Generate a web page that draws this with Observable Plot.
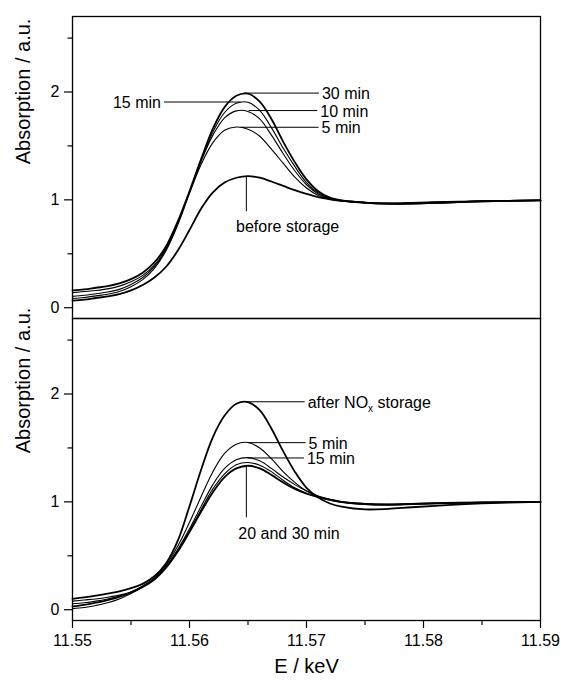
<!DOCTYPE html>
<html><head><meta charset="utf-8">
<script src="https://cdn.jsdelivr.net/npm/d3@7"></script>
<script src="https://cdn.jsdelivr.net/npm/@observablehq/plot@0.6"></script>
<style>body{margin:0;background:#fff} #chart{position:absolute;left:0;top:0}</style>
</head><body><div id="chart"></div>
<script>
// photon energy grid (keV)
const energy = [11.550, 11.551, 11.552, 11.553, 11.554, 11.555, 11.556, 11.557, 11.558, 11.559, 11.560, 11.561, 11.562, 11.563, 11.564, 11.565, 11.566, 11.567, 11.568, 11.569, 11.570, 11.571, 11.572, 11.573, 11.575, 11.577, 11.579, 11.582, 11.585, 11.590];

// upper panel: NOx storage
const top30min  = [0.16, 0.17, 0.185, 0.20, 0.225, 0.265, 0.325, 0.42, 0.57, 0.80, 1.08, 1.38, 1.66, 1.86, 1.965, 1.985, 1.91, 1.75, 1.54, 1.35, 1.19, 1.08, 1.02, 0.995, 0.975, 0.965, 0.965, 0.975, 0.985, 0.995];
const top15min  = [0.14, 0.15, 0.16, 0.175, 0.20, 0.24, 0.30, 0.395, 0.55, 0.785, 1.07, 1.37, 1.63, 1.81, 1.895, 1.905, 1.83, 1.67, 1.48, 1.31, 1.16, 1.065, 1.015, 0.995, 0.975, 0.965, 0.97, 0.98, 0.99, 0.995];
const top10min  = [0.105, 0.115, 0.13, 0.145, 0.17, 0.215, 0.28, 0.38, 0.54, 0.78, 1.07, 1.36, 1.60, 1.76, 1.825, 1.82, 1.75, 1.60, 1.43, 1.27, 1.14, 1.055, 1.01, 0.99, 0.97, 0.965, 0.97, 0.98, 0.99, 0.995];
const top5min   = [0.085, 0.095, 0.11, 0.125, 0.15, 0.195, 0.26, 0.365, 0.53, 0.77, 1.06, 1.33, 1.53, 1.645, 1.675, 1.655, 1.59, 1.47, 1.34, 1.21, 1.11, 1.04, 1.005, 0.99, 0.975, 0.97, 0.975, 0.985, 0.99, 0.995];
const topBefore = [0.065, 0.075, 0.09, 0.105, 0.125, 0.16, 0.21, 0.28, 0.38, 0.53, 0.72, 0.92, 1.07, 1.16, 1.205, 1.22, 1.205, 1.17, 1.13, 1.09, 1.055, 1.025, 1.005, 0.99, 0.975, 0.965, 0.965, 0.975, 0.985, 0.995];

// lower panel: reduction
const botAfterNOx = [0.10, 0.115, 0.13, 0.15, 0.17, 0.20, 0.24, 0.31, 0.43, 0.64, 0.96, 1.30, 1.60, 1.80, 1.91, 1.925, 1.85, 1.68, 1.47, 1.28, 1.13, 1.04, 0.985, 0.955, 0.93, 0.935, 0.95, 0.97, 0.985, 1.0];
const bot5min  = [0.055, 0.065, 0.08, 0.10, 0.125, 0.165, 0.22, 0.295, 0.415, 0.59, 0.81, 1.05, 1.28, 1.45, 1.535, 1.55, 1.50, 1.40, 1.28, 1.18, 1.10, 1.05, 1.015, 0.995, 0.975, 0.97, 0.975, 0.985, 0.99, 1.0];
const bot15min = [0.01, 0.02, 0.04, 0.065, 0.10, 0.15, 0.21, 0.285, 0.40, 0.56, 0.75, 0.96, 1.16, 1.31, 1.39, 1.41, 1.38, 1.31, 1.23, 1.16, 1.10, 1.055, 1.025, 1.0, 0.98, 0.975, 0.98, 0.99, 0.995, 1.0];
const bot20min = [0.08, 0.09, 0.10, 0.115, 0.135, 0.165, 0.215, 0.285, 0.395, 0.55, 0.73, 0.93, 1.12, 1.26, 1.345, 1.365, 1.34, 1.28, 1.20, 1.13, 1.08, 1.05, 1.02, 1.0, 0.985, 0.98, 0.985, 0.99, 0.995, 1.0];
const bot30min = [0.03, 0.045, 0.065, 0.09, 0.12, 0.16, 0.21, 0.28, 0.39, 0.54, 0.72, 0.91, 1.09, 1.23, 1.31, 1.335, 1.31, 1.25, 1.18, 1.12, 1.075, 1.045, 1.02, 1.0, 0.98, 0.975, 0.98, 0.99, 0.995, 1.0];

const xTicks = [11.55, 11.56, 11.57, 11.58, 11.59];
const xMinorTicks = [11.555, 11.565, 11.575, 11.585];
const yTicks = [0, 1, 2];
const yMinorTicks = [0.5, 1.5, 2.5];
const labelsTop = ["30 min", "15 min", "10 min", "5 min", "before storage"];
const labelsBottom = ["after NOx storage", "5 min", "15 min", "20 and 30 min"];
const yTitle = "Absorption / a.u.";
const xTitle = "E / keV";

const FONT = "'Liberation Sans', Arial, Helvetica, sans-serif";

const series = [
  {panel: "top", name: "30 min", values: top30min, thick: true},
  {panel: "top", name: "15 min", values: top15min, thick: false},
  {panel: "top", name: "10 min", values: top10min, thick: false},
  {panel: "top", name: "5 min", values: top5min, thick: false},
  {panel: "top", name: "before storage", values: topBefore, thick: true},
  {panel: "bottom", name: "after NOx storage", values: botAfterNOx, thick: true},
  {panel: "bottom", name: "5 min", values: bot5min, thick: false},
  {panel: "bottom", name: "15 min", values: bot15min, thick: false},
  {panel: "bottom", name: "20 min", values: bot20min, thick: false},
  {panel: "bottom", name: "30 min", values: bot30min, thick: true}
];
const rows = series.flatMap(s => energy.map((e, i) => ({panel: s.panel, key: s.panel + "|" + s.name, E: e, A: s.values[i], thick: s.thick})));

// annotation geometry (leader lines in data coordinates)
const topLinks = [
  {x1: 11.56465, y1: 1.99, x2: 11.57106, y2: 1.99},
  {x1: 11.55782, y1: 1.907, x2: 11.56437, y2: 1.907},
  {x1: 11.56506, y1: 1.828, x2: 11.57092, y2: 1.828},
  {x1: 11.56437, y1: 1.673, x2: 11.57103, y2: 1.673},
  {x1: 11.56486, y1: 1.215, x2: 11.56486, y2: 0.895}
];
const topText = [
  {x: 11.57106, y: 1.99, anchor: "start", t: labelsTop[0]},
  {x: 11.55782, y: 1.907, anchor: "end", t: labelsTop[1]},
  {x: 11.57092, y: 1.828, anchor: "start", t: labelsTop[2]},
  {x: 11.57103, y: 1.673, anchor: "start", t: labelsTop[3]}
];
const botLinks = [
  {x1: 11.5648, y1: 1.928, x2: 11.56984, y2: 1.928},
  {x1: 11.56494, y1: 1.549, x2: 11.56992, y2: 1.549},
  {x1: 11.56494, y1: 1.407, x2: 11.56978, y2: 1.407},
  {x1: 11.56486, y1: 1.336, x2: 11.56486, y2: 0.857}
];
const botText = [
  {x: 11.56984, y: 1.928, dx: 3, t: labelsBottom[0]},
  {x: 11.56992, y: 1.549, dx: 5, t: labelsBottom[1]},
  {x: 11.56978, y: 1.407, dx: 3, t: labelsBottom[2]}
];

const chart = Plot.plot({
  width: 561, height: 680,
  marginTop: 15, marginBottom: 60, marginLeft: 72, marginRight: 21,
  style: {fontFamily: FONT, color: "#000", background: "#fff", overflow: "visible"},
  x: {domain: [11.55, 11.59], axis: null},
  y: {domain: [-0.1, 2.7], axis: null},
  fy: {domain: ["top", "bottom"], padding: 0, axis: null},
  marks: [
    Plot.frame({stroke: "#000", strokeWidth: 1.3}),
    Plot.axisY({ticks: yTicks, tickSize: 8, tickPadding: 5, fontSize: 16, label: null, tickFormat: d3.format("d"), strokeWidth: 1.2}),
    Plot.axisY({ticks: yMinorTicks, tickSize: 4.5, text: null, label: null, strokeWidth: 1.2}),
    Plot.axisX({ticks: xTicks, tickSize: 8, tickPadding: 6, fontSize: 16, tickFormat: d3.format(".2f"), label: null, strokeWidth: 1.2}),
    Plot.axisX({ticks: xMinorTicks, tickSize: 5, text: null, label: null, strokeWidth: 1.2}),
    Plot.line(rows.filter(d => !d.thick), {x: "E", y: "A", z: "key", fy: "panel", curve: "catmull-rom", stroke: "#000", strokeWidth: 1.1}),
    Plot.line(rows.filter(d => d.thick), {x: "E", y: "A", z: "key", fy: "panel", curve: "catmull-rom", stroke: "#000", strokeWidth: 1.8}),
    Plot.link(topLinks, {x1: "x1", y1: "y1", x2: "x2", y2: "y2", fy: () => "top", stroke: "#000", strokeWidth: 1}),
    Plot.link(botLinks, {x1: "x1", y1: "y1", x2: "x2", y2: "y2", fy: () => "bottom", stroke: "#000", strokeWidth: 1}),
    Plot.text(topText, {x: "x", y: "y", text: "t", fy: () => "top", textAnchor: "start", dx: 3, dy: 1, fontSize: 16, fill: "#000", filter: d => d.anchor === "start"}),
    Plot.text(topText, {x: "x", y: "y", text: "t", fy: () => "top", textAnchor: "end", dx: -3, dy: 1, fontSize: 16, fill: "#000", filter: d => d.anchor === "end"}),
    Plot.text([labelsTop[4]], {x: () => 11.56839, y: () => 0.75, text: d => d, fy: () => "top", fontSize: 16, fill: "#000"}),
    Plot.text(botText, {x: "x", y: "y", text: "t", fy: () => "bottom", textAnchor: "start", dx: 3, dy: 1, fontSize: 16, fill: "#000"}),
    Plot.text([labelsBottom[3]], {x: () => 11.5685, y: () => 0.70, text: d => d, fy: () => "bottom", fontSize: 16, fill: "#000"}),
    Plot.text([yTitle], {y: () => 1.33, fy: () => "top", text: d => d, frameAnchor: "left", dx: -49, rotate: -90, fontSize: 20, fill: "#000"}),
    Plot.text([yTitle], {y: () => 1.45, fy: () => "bottom", text: d => d, frameAnchor: "left", dx: -49, rotate: -90, fontSize: 20, fill: "#000"}),
    Plot.text([xTitle], {fy: () => "bottom", text: d => d, frameAnchor: "bottom", dy: 52, fontSize: 20, fill: "#000"})
  ]
});

// subscript x in "NOx"
chart.querySelectorAll("text").forEach(el => {
  if (el.textContent === "after NOx storage") {
    el.textContent = "";
    el.appendChild(document.createTextNode("after NO"));
    const sub = document.createElementNS("http://www.w3.org/2000/svg", "tspan");
    sub.setAttribute("font-size", "10");
    sub.setAttribute("dy", "4");
    sub.textContent = "x";
    el.appendChild(sub);
    const rest = document.createElementNS("http://www.w3.org/2000/svg", "tspan");
    rest.setAttribute("dy", "-4");
    rest.textContent = " storage";
    el.appendChild(rest);
  }
});

document.getElementById("chart").appendChild(chart);
</script>
</body></html>
